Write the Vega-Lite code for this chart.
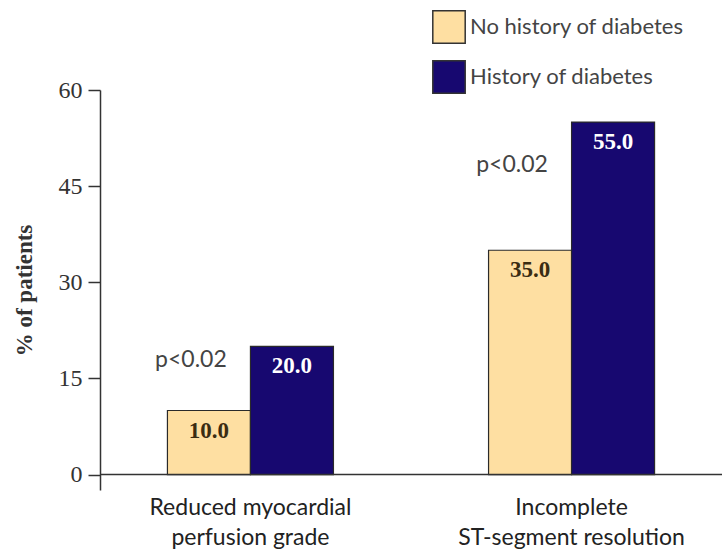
{
  "$schema": "https://vega.github.io/schema/vega-lite/v6.json",
  "width": 622,
  "height": 400,
  "autosize": {"type": "none"},
  "padding": {"left": 100, "top": 90, "right": 0, "bottom": 68},
  "background": "white",
  "datasets": {
    "bars": [
      {"category": "Reduced myocardial|perfusion grade", "group": "No history of diabetes", "value": 10.0, "label": "10.0"},
      {"category": "Reduced myocardial|perfusion grade", "group": "History of diabetes", "value": 20.0, "label": "20.0"},
      {"category": "Incomplete|ST-segment resolution", "group": "No history of diabetes", "value": 35.0, "label": "35.0"},
      {"category": "Incomplete|ST-segment resolution", "group": "History of diabetes", "value": 55.0, "label": "55.0"}
    ],
    "pvals": [
      {"category": "Reduced myocardial|perfusion grade", "group": "No history of diabetes", "ypos": 17.9, "text": "p<0.02"},
      {"category": "Incomplete|ST-segment resolution", "group": "No history of diabetes", "ypos": 48.3, "text": "p<0.02"}
    ]
  },
  "config": {
    "view": {"stroke": null},
    "axis": {"grid": false}
  },
  "encoding": {
    "x": {
      "field": "category",
      "type": "nominal",
      "sort": ["Reduced myocardial|perfusion grade", "Incomplete|ST-segment resolution"],
      "scale": {"paddingInner": 0.483, "paddingOuter": 0.21},
      "axis": {
        "title": null,
        "domain": false,
        "ticks": false,
        "labelAngle": 0,
        "labelExpr": "split(datum.label, '|')",
        "labelFont": "Lato",
        "labelFontSize": 23,
        "labelColor": "#222",
        "labelPadding": 6,
        "labelLineHeight": 30,
        "labelLimit": 400
      }
    },
    "xOffset": {
      "field": "group",
      "type": "nominal",
      "sort": ["No history of diabetes", "History of diabetes"],
      "scale": {"domain": ["No history of diabetes", "History of diabetes"], "paddingInner": 0, "paddingOuter": 0}
    }
  },
  "layer": [
    {
      "data": {"name": "bars"},
      "mark": {"type": "bar", "stroke": "#2a2a2a", "strokeWidth": 1.2},
      "encoding": {
        "y": {
          "field": "value",
          "type": "quantitative",
          "scale": {"domain": [-2.4, 60], "nice": false, "zero": false},
          "axis": {
            "values": [0, 15, 30, 45, 60],
            "title": "% of patients",
            "titleFont": "Liberation Serif",
            "titleFontSize": 23,
            "titleFontWeight": "bold",
            "titleColor": "#333",
            "titlePadding": 22,
            "labelFont": "Liberation Serif",
            "labelFontSize": 24,
            "labelColor": "#333",
            "labelPadding": 6,
            "tickSize": 12,
            "tickColor": "#333",
            "tickWidth": 1.5,
            "domainColor": "#333",
            "domainWidth": 1.5
          }
        },
        "color": {
          "field": "group",
          "type": "nominal",
          "sort": ["No history of diabetes", "History of diabetes"],
          "scale": {"domain": ["No history of diabetes", "History of diabetes"], "range": ["#FEDFA2", "#170870"]},
          "legend": {
            "title": null,
            "orient": "none",
            "legendX": 332,
            "legendY": -80,
            "symbolType": "square",
            "symbolSize": 1050,
            "symbolStrokeColor": "#333",
            "symbolStrokeWidth": 1.5,
            "labelFont": "Lato",
            "labelFontSize": 22,
            "labelColor": "#444",
            "labelOffset": 4,
            "labelLimit": 400,
            "rowPadding": 10
          }
        }
      }
    },
    {
      "data": {"name": "bars"},
      "transform": [
        {"calculate": "datum.group == 'History of diabetes' ? 'white' : '#3a2c12'", "as": "tcolor"}
      ],
      "mark": {"type": "text", "baseline": "top", "dy": 9, "font": "Liberation Serif", "fontWeight": "bold", "fontSize": 23},
      "encoding": {
        "y": {"field": "value", "type": "quantitative"},
        "text": {"field": "label"},
        "color": {"field": "tcolor", "type": "nominal", "scale": null, "legend": null}
      }
    },
    {
      "data": {"name": "pvals"},
      "mark": {"type": "text", "baseline": "middle", "dx": -18, "font": "Lato", "fontSize": 23, "color": "#444"},
      "encoding": {
        "y": {"field": "ypos", "type": "quantitative"},
        "text": {"field": "text"}
      }
    },
    {
      "data": {"values": [{"z": 0}]},
      "mark": {"type": "rule", "color": "#333", "strokeWidth": 1.5},
      "encoding": {"y": {"field": "z", "type": "quantitative"}, "x": {"value": 0}, "x2": {"value": 622}, "xOffset": null}
    }
  ]
}
